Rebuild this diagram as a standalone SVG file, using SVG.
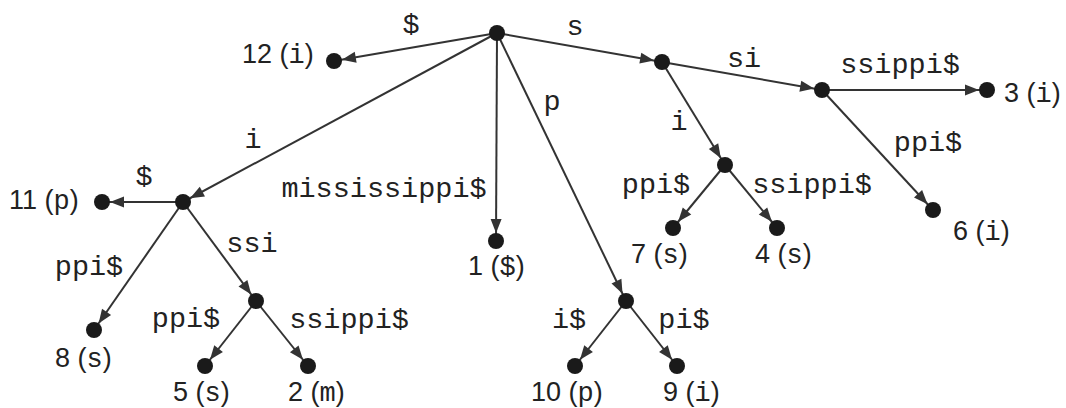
<svg xmlns="http://www.w3.org/2000/svg" width="1066" height="408" viewBox="0 0 1066 408">
<style>
.e{stroke:#333;stroke-width:2;fill:none;marker-end:url(#ah)}
.n{fill:#1a1a1a}
.el{font-family:"Liberation Mono",monospace;font-size:28.5px;fill:#222;text-anchor:middle}
.lf{font-family:"Liberation Sans",Arial,sans-serif;font-size:27px;fill:#222}
.m{font-family:"Liberation Mono",monospace;font-size:27px}
</style>
<defs>
<marker id="ah" markerUnits="userSpaceOnUse" markerWidth="30" markerHeight="14" refX="22" refY="0" viewBox="0 -7 30 14" orient="auto" overflow="visible">
<path d="M0,-5.5 L14,0 L0,5.5 z" fill="#333"/>
</marker>
</defs>
<rect width="1066" height="408" fill="#fff"/>
<g id="connectors">
<line class="e" x1="497" y1="33" x2="334" y2="61"/>
<line class="e" x1="497" y1="33" x2="662" y2="62"/>
<line class="e" x1="662" y1="62" x2="822" y2="90"/>
<line class="e" x1="822" y1="90" x2="987" y2="90"/>
<line class="e" x1="822" y1="90" x2="933" y2="210"/>
<line class="e" x1="662" y1="62" x2="725" y2="165"/>
<line class="e" x1="725" y1="165" x2="673" y2="228"/>
<line class="e" x1="725" y1="165" x2="777" y2="228"/>
<line class="e" x1="497" y1="33" x2="183" y2="202"/>
<line class="e" x1="183" y1="202" x2="102" y2="202"/>
<line class="e" x1="183" y1="202" x2="94" y2="330"/>
<line class="e" x1="183" y1="202" x2="256" y2="301"/>
<line class="e" x1="256" y1="301" x2="205" y2="366"/>
<line class="e" x1="256" y1="301" x2="308" y2="366"/>
<line class="e" x1="497" y1="33" x2="496" y2="241"/>
<line class="e" x1="497" y1="33" x2="626" y2="301"/>
<line class="e" x1="626" y1="301" x2="575" y2="366"/>
<line class="e" x1="626" y1="301" x2="677" y2="366"/>
</g>
<g id="edge-labels">
<text class="el" x="411" y="33">$</text>
<text class="el" x="575" y="35">s</text>
<text class="el" x="744" y="67">si</text>
<text class="el" x="900" y="73">ssippi$</text>
<text class="el" x="679" y="130">i</text>
<text class="el" x="928" y="151">ppi$</text>
<text class="el" x="656" y="193">ppi$</text>
<text class="el" x="812" y="193">ssippi$</text>
<text class="el" x="253" y="148">i</text>
<text class="el" x="144" y="185">$</text>
<text class="el" x="384" y="197">mississippi$</text>
<text class="el" x="552" y="110">p</text>
<text class="el" x="89" y="275">ppi$</text>
<text class="el" x="252" y="252">ssi</text>
<text class="el" x="186" y="327">ppi$</text>
<text class="el" x="349" y="328">ssippi$</text>
<text class="el" x="569" y="328">i$</text>
<text class="el" x="684" y="328">pi$</text>
</g>
<g id="root"><circle class="n" cx="497" cy="33" r="8"/></g>
<g id="n12"><circle class="n" cx="334" cy="61" r="8"/><text class="lf" x="242" y="63">12 (<tspan class="m">i</tspan>)</text></g>
<g id="ns"><circle class="n" cx="662" cy="62" r="8"/></g>
<g id="nsi"><circle class="n" cx="822" cy="90" r="8"/></g>
<g id="n3"><circle class="n" cx="987" cy="90" r="8"/><text class="lf" x="1004" y="102">3 (<tspan class="m">i</tspan>)</text></g>
<g id="n6"><circle class="n" cx="933" cy="210" r="8"/><text class="lf" x="953" y="240">6 (<tspan class="m">i</tspan>)</text></g>
<g id="nssi2"><circle class="n" cx="725" cy="165" r="8"/></g>
<g id="n7"><circle class="n" cx="673" cy="228" r="8"/><text class="lf" x="631" y="263">7 (<tspan class="m">s</tspan>)</text></g>
<g id="n4"><circle class="n" cx="777" cy="228" r="8"/><text class="lf" x="755" y="263">4 (<tspan class="m">s</tspan>)</text></g>
<g id="ni"><circle class="n" cx="183" cy="202" r="8"/></g>
<g id="n11"><circle class="n" cx="102" cy="202" r="8"/><text class="lf" x="9" y="209">11 (<tspan class="m">p</tspan>)</text></g>
<g id="n8"><circle class="n" cx="94" cy="330" r="8"/><text class="lf" x="55" y="367">8 (<tspan class="m">s</tspan>)</text></g>
<g id="nissi"><circle class="n" cx="256" cy="301" r="8"/></g>
<g id="n5"><circle class="n" cx="205" cy="366" r="8"/><text class="lf" x="173" y="401">5 (<tspan class="m">s</tspan>)</text></g>
<g id="n2"><circle class="n" cx="308" cy="366" r="8"/><text class="lf" x="288" y="401">2 (<tspan class="m">m</tspan>)</text></g>
<g id="n1"><circle class="n" cx="496" cy="241" r="8"/><text class="lf" x="468" y="275">1 (<tspan class="m">$</tspan>)</text></g>
<g id="np"><circle class="n" cx="626" cy="301" r="8"/></g>
<g id="n10"><circle class="n" cx="575" cy="366" r="8"/><text class="lf" x="531" y="401">10 (<tspan class="m">p</tspan>)</text></g>
<g id="n9"><circle class="n" cx="677" cy="366" r="8"/><text class="lf" x="663" y="401">9 (<tspan class="m">i</tspan>)</text></g>
</svg>
